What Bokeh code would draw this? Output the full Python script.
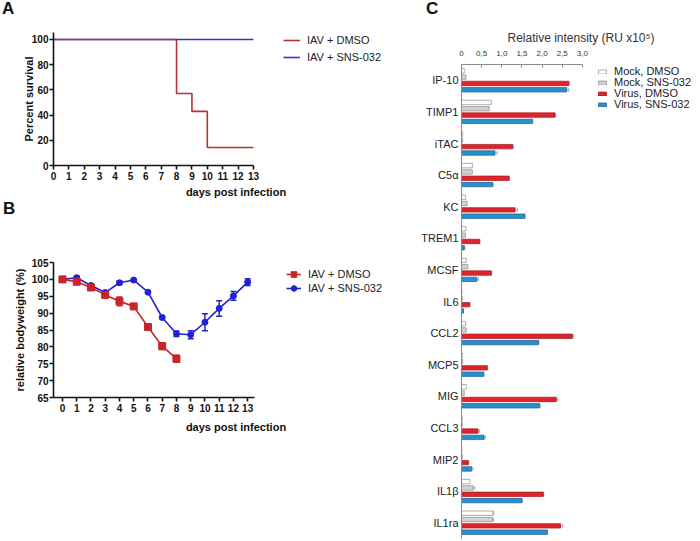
from bokeh.plotting import figure
from bokeh.models import (Range1d, FactorRange, FixedTicker, Legend, LegendItem,
                          Whisker, TeeHead, ColumnDataSource, Div)
from bokeh.transform import dodge
from bokeh.layouts import row, column
from bokeh.embed import file_html
from bokeh.resources import INLINE

FONT = "Liberation Sans"

# ---------------- Panel A: survival ----------------
surv_days_dmso = [0, 8, 9, 10, 13]
surv_dmso = [100, 57.1, 42.9, 14.3, 14.3]
surv_days_sns = [0, 13]
surv_sns = [100, 100]
a_xticks = list(range(14))
a_yticks = [0, 20, 40, 60, 80, 100]

# ---------------- Panel B: bodyweight ----------------
days_dmso = [0, 1, 2, 3, 4, 5, 6, 7, 8]
bw_dmso = [100, 99.3, 97.6, 95.4, 93.5, 92.0, 85.9, 80.2, 76.5]
bw_dmso_err = [0.2, 0.3, 0.5, 0.5, 1.3, 0.8, 0.8, 1.0, 1.0]
days_sns = list(range(14))
bw_sns = [100, 100.5, 98.2, 96.1, 99.0, 99.8, 96.2, 88.7, 83.9, 83.6, 87.3, 91.4, 95.1, 99.2]
bw_sns_err = [0.3, 0.5, 0.3, 0.3, 0.5, 0.4, 0.4, 0.4, 0.8, 1.2, 2.5, 2.3, 1.3, 1.0]
b_xticks = list(range(14))
b_yticks = [65, 70, 75, 80, 85, 90, 95, 100, 105]

# ---------------- Panel C: cytokine array ----------------
cytokines = ["IP-10", "TIMP1", "iTAC", "C5α", "KC", "TREM1", "MCSF", "IL6",
             "CCL2", "MCP5", "MIG", "CCL3", "MIP2", "IL1β", "IL1ra"]
mock_dmso = [0.07, 0.74, 0.03, 0.27, 0.10, 0.11, 0.12, 0.01, 0.10, 0.02, 0.12, 0.02, 0.01, 0.21, 0.78]
mock_sns = [0.11, 0.69, 0.03, 0.27, 0.14, 0.10, 0.16, 0.02, 0.12, 0.03, 0.07, 0.02, 0.02, 0.29, 0.77]
virus_dmso = [2.66, 2.32, 1.27, 1.18, 1.33, 0.45, 0.74, 0.21, 2.75, 0.64, 2.35, 0.41, 0.17, 2.03, 2.46]
virus_sns = [2.61, 1.76, 0.83, 0.77, 1.57, 0.07, 0.38, 0.05, 1.91, 0.55, 1.94, 0.56, 0.25, 1.50, 2.13]
mock_dmso_err = [0, 0, 0, 0, 0, 0, 0, 0, 0, 0, 0, 0, 0, 0, 0.02]
mock_sns_err = [0, 0, 0, 0, 0, 0, 0, 0, 0, 0, 0, 0, 0, 0.04, 0.02]
virus_dmso_err = [0.02, 0.02, 0.02, 0.01, 0.06, 0.01, 0.01, 0, 0.03, 0.01, 0.03, 0.04, 0.01, 0.01, 0.05]
virus_sns_err = [0.05, 0.01, 0.05, 0.02, 0.01, 0.01, 0.04, 0, 0.01, 0.01, 0.01, 0.03, 0.03, 0.01, 0.01]
c_xticks = [0, 0.5, 1.0, 1.5, 2.0, 2.5, 3.0]
c_xtick_labels = ["0", "0,5", "1,0", "1,5", "2,0", "2,5", "3,0"]
series_names = ["Mock, DMSO", "Mock, SNS-032", "Virus, DMSO", "Virus, SNS-032"]

RED_A = "#b8302f"
BLUE_A = "#3535c8"
RED_B = "#c4262b"
BLUE_B = "#2222d4"


def style_axes(p, label_size="10px"):
    for ax in (p.xaxis[0], p.yaxis[0]):
        ax.axis_line_width = 1.6
        ax.axis_line_color = "#111111"
        ax.major_tick_line_width = 1.6
        ax.major_tick_line_color = "#111111"
        ax.major_tick_out = 4
        ax.major_tick_in = 0
        ax.minor_tick_line_color = None
        ax.major_label_text_font = FONT
        ax.major_label_text_font_style = "bold"
        ax.major_label_text_font_size = label_size
        ax.major_label_text_color = "#111111"
        ax.axis_label_text_font = FONT
        ax.axis_label_text_font_style = "bold"
        ax.axis_label_text_font_size = "11px"
        ax.axis_label_text_color = "#111111"
    p.xgrid.visible = False
    p.ygrid.visible = False
    p.outline_line_color = None


def panel_letter(text, width, indent):
    return Div(text=text, width=width, height=18, margin=0,
               styles={"font-family": FONT, "font-size": "17px", "font-weight": "bold",
                       "line-height": "18px", "color": "#111111",
                       "text-indent": f"{indent}px"})


def single_legend(p, label, renderers, vx, vy, glyph_w, glyph_h, size, standoff):
    leg = Legend(items=[LegendItem(label=label, renderers=renderers)],
                 location=(vx, vy), border_line_color=None, background_fill_alpha=0,
                 padding=0, margin=0, spacing=0, label_height=14, glyph_height=glyph_h,
                 glyph_width=glyph_w, label_standoff=standoff, label_text_font=FONT,
                 label_text_font_size=size, label_text_color="#222222")
    p.add_layout(leg)


# ---------- A ----------
pA = figure(width=418, height=182, x_range=Range1d(0, 23.73), y_range=Range1d(0, 105.5),
            output_backend="svg", toolbar_location=None,
            min_border_left=53, min_border_right=0, min_border_top=14, min_border_bottom=34)
style_axes(pA)
pA.xaxis.ticker = FixedTicker(ticks=a_xticks)
pA.xaxis.bounds = (0, 13)
pA.xaxis.major_label_standoff = 2
pA.xaxis.axis_label = "days post infection"
pA.xaxis.axis_label_standoff = 3
pA.yaxis.ticker = FixedTicker(ticks=a_yticks)
pA.yaxis.major_label_standoff = 1
pA.yaxis.axis_label = "Percent survival"
pA.yaxis.axis_label_standoff = -6

rA_sns = pA.step(surv_days_sns, surv_sns, mode="after", line_color=BLUE_A, line_width=1.6)
rA_dmso = pA.step(surv_days_dmso, surv_dmso, mode="after", line_color=RED_A, line_width=1.6)
single_legend(pA, "IAV + DMSO", [rA_dmso], 230, 118, 17, 14, "11px", 7)
single_legend(pA, "IAV + SNS-032", [rA_sns], 230, 101, 17, 14, "11px", 7)

# ---------- B ----------
pB = figure(width=418, height=222, x_range=Range1d(-0.63, 24.99), y_range=Range1d(65, 105),
            output_backend="svg", toolbar_location=None,
            min_border_left=52, min_border_right=0, min_border_top=44, min_border_bottom=43)
style_axes(pB)
pB.xaxis.ticker = FixedTicker(ticks=b_xticks)
pB.xaxis.bounds = (-0.63, 13.45)
pB.xaxis.major_label_standoff = 2
pB.xaxis.axis_label = "days post infection"
pB.xaxis.axis_label_standoff = 6
pB.yaxis.ticker = FixedTicker(ticks=b_yticks)
pB.yaxis.major_label_standoff = 1
pB.yaxis.axis_label = "relative bodyweight (%)"
pB.yaxis.axis_label_standoff = 3

src_bd = ColumnDataSource(dict(x=days_dmso, y=bw_dmso,
                               lo=[v - e for v, e in zip(bw_dmso, bw_dmso_err)],
                               up=[v + e for v, e in zip(bw_dmso, bw_dmso_err)]))
src_bs = ColumnDataSource(dict(x=days_sns, y=bw_sns,
                               lo=[v - e for v, e in zip(bw_sns, bw_sns_err)],
                               up=[v + e for v, e in zip(bw_sns, bw_sns_err)]))
for src, col in ((src_bs, BLUE_B), (src_bd, RED_B)):
    pB.add_layout(Whisker(base="x", lower="lo", upper="up", source=src, dimension="height",
                          line_color=col, line_width=1.5,
                          upper_head=TeeHead(size=6, line_color=col, line_width=1.5),
                          lower_head=TeeHead(size=6, line_color=col, line_width=1.5)))
lB_sns = pB.line("x", "y", source=src_bs, line_color=BLUE_B, line_width=1.6)
mB_sns = pB.scatter("x", "y", source=src_bs, marker="circle", size=6,
                    fill_color=BLUE_B, line_color=BLUE_B)
lB_dmso = pB.line("x", "y", source=src_bd, line_color=RED_B, line_width=1.6)
mB_dmso = pB.scatter("x", "y", source=src_bd, marker="square", size=7,
                     fill_color=RED_B, line_color=RED_B)
single_legend(pB, "IAV + DMSO", [lB_dmso, mB_dmso], 233, 116, 15, 14, "11px", 7)
single_legend(pB, "IAV + SNS-032", [lB_sns, mB_sns], 233, 102, 15, 14, "11px", 7)

# ---------- C ----------
pC = figure(width=282, height=523, x_range=Range1d(0, 5.93),
            y_range=FactorRange(factors=list(reversed(cytokines))),
            x_axis_location="above", output_backend="svg", toolbar_location=None,
            min_border_left=43, min_border_right=0, min_border_top=46, min_border_bottom=3)
pC.xgrid.visible = False
pC.ygrid.visible = False
pC.outline_line_color = None
xa = pC.xaxis[0]
xa.ticker = FixedTicker(ticks=c_xticks)
xa.major_label_overrides = dict(zip(c_xticks, c_xtick_labels))
xa.bounds = (0, 3.0)
xa.axis_line_color = "#8a8a8a"
xa.major_tick_line_color = "#8a8a8a"
xa.major_tick_in = 3
xa.major_tick_out = 0
xa.minor_tick_line_color = None
xa.major_label_text_font = FONT
xa.major_label_text_font_size = "8px"
xa.major_label_text_color = "#333333"
xa.major_label_standoff = 9
xa.axis_label = "Relative intensity (RU x10⁵)"
xa.axis_label_text_font = FONT
xa.axis_label_text_font_size = "12px"
xa.axis_label_text_font_style = "normal"
xa.axis_label_text_color = "#333333"
xa.axis_label_standoff = 3
ya = pC.yaxis[0]
ya.axis_line_color = "#8a8a8a"
ya.major_tick_line_color = None
ya.major_tick_out = 0
ya.major_tick_in = 0
ya.minor_tick_line_color = None
ya.major_label_text_font = FONT
ya.major_label_text_font_size = "11px"
ya.major_label_text_color = "#222222"
ya.major_label_standoff = 3

series = [
    (mock_dmso, mock_dmso_err, 0.3, "#ffffff", "#8c8c8c"),
    (mock_sns, mock_sns_err, 0.1, "#d2d2d2", "#8c8c8c"),
    (virus_dmso, virus_dmso_err, -0.1, "#e1232b", "#9e1b20"),
    (virus_sns, virus_sns_err, -0.3, "#2a8fcf", "#1d5f8a"),
]
legend_vy = [460, 449, 438, 427]
for name, (vals, errs, off, fill, line), vy in zip(series_names, series, legend_vy):
    src = ColumnDataSource(dict(cat=cytokines, val=vals))
    r = pC.hbar(y=dodge("cat", off, range=pC.y_range), left=0, right="val", height=0.14,
                source=src, fill_color=fill, line_color=line, line_width=0.7)
    single_legend(pC, name, [r], 136, vy, 10, 5, "11px", 7)
    idx = [i for i, e in enumerate(errs) if e > 0]
    esrc = ColumnDataSource(dict(cat=[cytokines[i] for i in idx],
                                 lo=[vals[i] for i in idx],
                                 up=[vals[i] + errs[i] for i in idx]))
    pC.add_layout(Whisker(base=dodge("cat", off, range=pC.y_range), lower="lo", upper="up",
                          source=esrc, dimension="width", line_color="#9a9a9a", line_width=0.8,
                          lower_head=None,
                          upper_head=TeeHead(size=4, line_color="#9a9a9a", line_width=0.8)))

layout = row(column(panel_letter("A", 418, 2), pA, panel_letter("B", 418, 3), pB),
             column(panel_letter("C", 282, 8), pC))
open("out.html", "w").write(file_html(layout, INLINE))
